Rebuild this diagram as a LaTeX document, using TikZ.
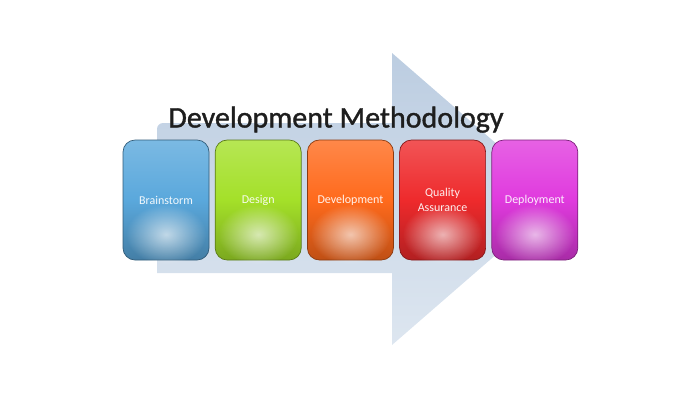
\documentclass[tikz,border=0pt]{standalone}
\usepackage{fontspec}
\setmainfont{Carlito}
\newfontfamily\titlefont[FakeBold=1.2]{Carlito}
\usepackage{xcolor}
\usepackage{tikz}
\usetikzlibrary{positioning,fadings}

\definecolor{arrowtop}{HTML}{BCCDE1}
\definecolor{arrowbot}{HTML}{DDE6F0}
\definecolor{brainblue}{HTML}{5AA8DC}
\definecolor{designgreen}{HTML}{A4E029}
\definecolor{devorange}{HTML}{FF6A1C}
\definecolor{qared}{HTML}{EE2A2C}
\definecolor{deploypink}{HTML}{E03ADE}
\definecolor{titlegray}{HTML}{1E1E1E}

\tikzfading[name=glowfade, inner color=transparent!0, outer color=transparent!100]

\begin{document}
\begin{tikzpicture}[x=1pt, y=-1pt, node distance=5.5pt,
  stage/.style={rounded corners=12pt, minimum width=86pt, minimum height=120pt,
    align=center, text=white!92!#1, font=\fontsize{12}{15}\selectfont,
    draw=#1!55!black, line width=0.7pt,
    top color=#1!80!white, bottom color=#1!75!black, middle color=#1}]
  \useasboundingbox (0,0) rectangle (700,400);

  % big arrow behind the stages
  \shade[top color=arrowtop, bottom color=arrowbot]
    (157,132) [rounded corners=6pt] -- (157,123) [sharp corners] -- (392,123) -- (392,53)
    -- (560,199) -- (392,345) -- (392,273) -- (157,273) -- cycle;

  % title
  \node[anchor=base, text=titlegray, font=\titlefont\fontsize{30}{32}\selectfont]
    (title) at (336,127.5) {Development Methodology};

  % stages
  \node[stage=brainblue] (brain) at (166,200) {Brainstorm};
  \node[stage=designgreen, right=of brain] (design) {Design};
  \node[stage=devorange, right=of design] (devel) {Development};
  \node[stage=qared, right=of devel] (qa) {Quality\\Assurance};
  \node[stage=deploypink, right=of qa] (deploy) {Deployment};

  % glow at the bottom of each stage
  \foreach \s in {brain,design,devel,qa,deploy}
    \fill[white, opacity=.65, path fading=glowfade]
      ([yshift=26pt]\s.south) ellipse (40 and 30);
\end{tikzpicture}
\end{document}
